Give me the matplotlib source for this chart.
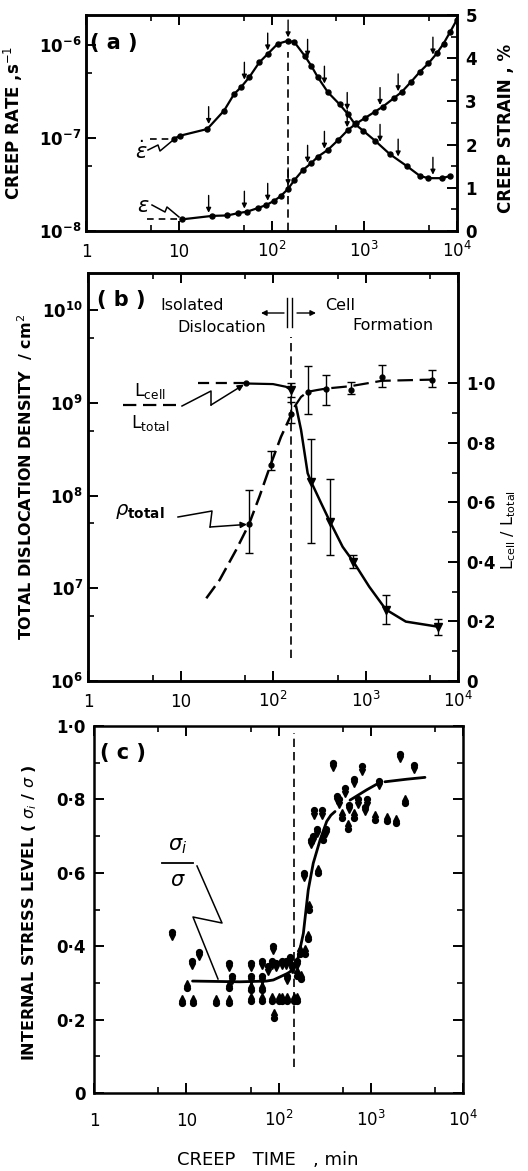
import numpy as np
import matplotlib
matplotlib.use("Agg")
import matplotlib.pyplot as plt
from matplotlib.lines import Line2D
from matplotlib.patches import FancyArrowPatch
from matplotlib.ticker import FixedLocator, NullFormatter
from matplotlib.transforms import offset_copy

W, H, DPI = 528, 1171, 100

# ---------------- (a) creep rate / creep strain ----------------
rate_t = [8.8, 10.4, 20.3, 30.8, 39.5, 46.7, 57.4, 73.8, 90.8, 116.6, 150, 177,
          227, 268, 316, 406, 543, 668, 789, 972, 1300, 1890, 2870, 4000, 4920,
          6870, 8450]
rate_v = [0.98e-7, 1.06e-7, 1.25e-7, 1.97e-7, 2.97e-7, 3.5e-7, 4.49e-7, 6.5e-7,
          8.0e-7, 1.03e-6, 1.11e-6, 1.07e-6, 7.7e-7, 6.0e-7, 4.5e-7, 3.1e-7,
          2.3e-7, 1.8e-7, 1.42e-7, 1.2e-7, 9.4e-8, 6.7e-8, 5.0e-8, 3.9e-8,
          3.7e-8, 3.7e-8, 3.9e-8]
rate_lead_t = [4.9, 8.8]

strain_t = [10.9, 23, 33.4, 43, 55, 71, 87.5, 107, 126, 150, 177, 218, 268, 316,
            406, 520, 668, 823, 1010, 1300, 1590, 2070, 2540, 3220, 4000, 4920,
            6050, 7170, 8450, 9900]
strain_v = [0.27, 0.35, 0.36, 0.41, 0.45, 0.53, 0.60, 0.70, 0.81, 0.97, 1.18,
            1.41, 1.57, 1.72, 1.88, 2.10, 2.34, 2.49, 2.61, 2.76, 2.88, 3.07,
            3.22, 3.46, 3.69, 3.88, 4.11, 4.34, 4.61, 4.88]
strain_lead_t = [4.5, 10.9]

tem_t = [21, 51, 91, 151, 245, 372, 655, 1480, 2320, 5500]
t_peak_a = 151

# ---------------- (b) dislocation density ----------------
rho_t = [55, 94, 158, 259, 414, 738, 1660, 6090]
rho_v = [4.9e7, 2.14e8, 7.5e8, 1.4e8, 5.2e7, 1.94e7, 5.9e6, 3.85e6]
rho_lo = [2.4e7, 1.9e8, 6.0e8, 3.1e7, 2.3e7, 1.64e7, 4.1e6, 3.1e6]
rho_hi = [1.15e8, 3.0e8, 1.03e9, 4.1e8, 1.5e8, 2.3e7, 8.5e6, 4.7e6]
rho_rise_t = [19, 26.5, 40, 55, 71.5, 94, 122, 158, 178]
rho_rise_v = [7.8e6, 1.23e7, 2.6e7, 4.9e7, 9.8e7, 2.14e8, 4.3e8, 7.5e8, 9.1e8]
rho_fall_t = [178, 201, 237, 259, 331, 414, 566, 738, 1097, 1660, 2730, 6090]
rho_fall_v = [9.1e8, 5.1e8, 1.74e8, 1.4e8, 8.3e7, 5.2e7, 2.8e7, 1.94e7, 1.04e7,
              5.9e6, 4.37e6, 3.85e6]

L_t = [50.6, 158, 237, 375, 690, 1500, 5290]
L_v = [0.999, 0.976, 0.971, 0.982, 0.977, 1.021, 1.012]
L_lo = [0.999, 0.954, 0.898, 0.926, 0.963, 0.988, 0.988]
L_hi = [0.999, 0.999, 1.057, 1.027, 1.004, 1.060, 1.044]
L_lead_t = [15.5, 50.6]
L_left_t = [50.6, 100, 138, 158]
L_left_v = [0.999, 0.997, 0.988, 0.976]
L_right_t = [170, 201, 237, 300, 375, 690, 1500, 5290]
L_right_v = [0.92, 0.954, 0.971, 0.977, 0.982, 0.990, 1.008, 1.012]
t_peak_b = 155

# ---------------- (c) internal stress level ----------------
sig_t = [7.0, 8.9, 10.1, 11.6, 11.9, 13.6, 21, 29.3, 29.3, 29.3, 31.5, 50, 50,
         50, 50, 66, 66, 66, 66, 76, 86, 88, 86, 90, 95, 100, 108, 110, 120, 125,
         125, 133, 140, 148, 160, 160, 160, 171, 176, 189, 194, 211, 216, 270,
         223, 238, 260, 306, 327, 242, 294, 387, 428, 456, 484, 526, 571, 585,
         664, 664, 733, 797, 866, 904, 1112, 1238, 1489, 1879, 2075, 2350, 2944]
sig_v = [0.44, 0.245, 0.285, 0.36, 0.245, 0.385, 0.245, 0.355, 0.285, 0.245,
         0.32, 0.355, 0.32, 0.28, 0.25, 0.36, 0.32, 0.28, 0.25, 0.345, 0.36, 0.40,
         0.25, 0.205, 0.355, 0.25, 0.36, 0.25, 0.36, 0.32, 0.25, 0.37, 0.35, 0.25,
         0.36, 0.32, 0.25, 0.38, 0.31, 0.60, 0.38, 0.42, 0.50, 0.60, 0.69, 0.70,
         0.72, 0.69, 0.72, 0.77, 0.77, 0.90, 0.81, 0.80, 0.75, 0.83, 0.72, 0.785,
         0.855, 0.75, 0.80, 0.89, 0.78, 0.80, 0.745, 0.85, 0.74, 0.735, 0.925,
         0.79, 0.895]
sig_dir = ['d', 'u', 'u', 'd', 'u', 'd', 'u', 'd', 'u', 'u', 'd', 'd', 'd', 'u',
           'u', 'd', 'd', 'u', 'u', 'd', 'd', 'd', 'u', 'u', 'd', 'u', 'd', 'u',
           'd', 'd', 'u', 'd', 'd', 'u', 'd', 'u', 'u', 'u', 'u', 'd', 'u', 'u',
           'u', 'u', 'd', 'd', 'd', 'u', 'd', 'd', 'd', 'd', 'd', 'd', 'u', 'd',
           'u', 'd', 'd', 'u', 'd', 'd', 'd', 'd', 'u', 'd', 'u', 'u', 'd', 'u',
           'd']
fit1_t = [11.7, 38, 74, 88, 123, 133, 151, 164, 186, 210, 238, 282, 333, 370, 410]
fit1_v = [0.305, 0.303, 0.305, 0.308, 0.325, 0.33, 0.345, 0.371, 0.435, 0.553,
          0.626, 0.689, 0.74, 0.757, 0.767]
fit2_t = [596, 903, 1210]
fit2_v = [0.798, 0.826, 0.844]
fit3_t = [1425, 2450, 3870]
fit3_v = [0.848, 0.855, 0.860]
t_peak_c = 147

x_ticks = [1, 10, 100, 1000, 10000]
x_labels = ['1', '10', r'$10^2$', r'$10^3$', r'$10^4$']
x_minor = [5, 50, 500, 5000]

# ---------------------------------------------------------------
plt.rcParams['font.family'] = ['DejaVu Sans']
plt.rcParams['mathtext.fontset'] = 'dejavusans'

fig = plt.figure(figsize=(W / DPI, H / DPI), dpi=DPI)


def box(l, t, r, b):
    return [l / W, 1 - b / H, (r - l) / W, (b - t) / H]


def fx(p):
    return (p[0] / W, 1 - p[1] / H)


def fig_line(pts, **kw):
    kw.setdefault('lw', 1.1)
    fig.add_artist(Line2D([p[0] / W for p in pts], [1 - p[1] / H for p in pts],
                          transform=fig.transFigure, color='k', **kw))


def fig_arrow(p0, p1):
    fig.add_artist(FancyArrowPatch(fx(p0), fx(p1), transform=fig.transFigure,
                                   arrowstyle='-|>', mutation_scale=8, lw=1.0,
                                   color='k', shrinkA=0, shrinkB=0))


def ftext(x, y, s, **kw):
    kw.setdefault('ha', 'center')
    kw.setdefault('va', 'center')
    fig.text(x / W, 1 - y / H, s, **kw)


def point_to(ax, xy, start):
    ax.annotate('', xy=xy, xycoords='data', xytext=fx(start),
                textcoords='figure fraction',
                arrowprops=dict(arrowstyle='-|>', lw=1.1, color='k', shrinkA=0,
                                shrinkB=1.5, mutation_scale=9))


def pow_label(e):
    return r'$\mathbf{10^{%d}}$' % e


def style_common(ax, xpad):
    ax.set_xscale('log')
    ax.set_xlim(1, 1e4)
    ax.set_xticks(x_ticks, x_labels)
    ax.xaxis.set_minor_locator(FixedLocator(x_minor))
    ax.xaxis.set_minor_formatter(NullFormatter())
    ax.tick_params(axis='x', which='both', direction='in', top=True, bottom=True,
                   labelsize=12, pad=xpad)
    ax.tick_params(which='major', length=7, width=1.4)
    ax.tick_params(which='minor', length=4, width=1.2)
    plt.setp(ax.get_xticklabels(), va='baseline')
    for s in ax.spines.values():
        s.set_linewidth(1.8)


def style_y(ax, side):
    ax.tick_params(axis='y', which='both', direction='in', labelsize=12,
                   left=(side == 'left'), right=(side == 'right'))
    ax.tick_params(which='major', length=7, width=1.4)
    ax.tick_params(which='minor', length=4, width=1.2)
    for lab in ax.get_yticklabels():
        lab.set_fontweight('bold')
    for s in ax.spines.values():
        s.set_linewidth(1.8)


# ============================ (a) ============================
ax_a = fig.add_axes(box(86, 15, 457, 231))
style_common(ax_a, 19)
ax_a.set_yscale('log')
ax_a.set_ylim(1e-8, 10 ** -5.677)
ax_a.set_yticks([1e-8, 1e-7, 1e-6], [pow_label(e) for e in (-8, -7, -6)])
ax_a.yaxis.set_minor_locator(FixedLocator([5e-8, 5e-7]))
ax_a.yaxis.set_minor_formatter(NullFormatter())
style_y(ax_a, 'left')

ax_a2 = ax_a.twinx()
ax_a2.set_ylim(0, 5)
ax_a2.set_yticks([0, 1, 2, 3, 4, 5])
ax_a2.yaxis.set_minor_locator(FixedLocator([0.5, 1.5, 2.5, 3.5, 4.5]))
style_y(ax_a2, 'right')
ax_a2.tick_params(axis='y', pad=6)

ax_a.plot(rate_t, rate_v, '-', color='k', lw=1.6, marker='o', ms=3.6)
ax_a.plot(rate_lead_t, [rate_v[0]] * 2, color='k', lw=1.2, ls=(0, (4, 3)))
ax_a2.plot(strain_t, strain_v, '-', color='k', lw=1.6, marker='o', ms=3.6)
ax_a2.plot(strain_lead_t, [strain_v[0]] * 2, color='k', lw=1.2, ls=(0, (4, 3)))
ax_a.axvline(t_peak_a, ymin=0, ymax=0.83, color='k', lw=1.2, ls=(0, (5, 3)))

arrow_kw = dict(arrowstyle='-|>', lw=1.0, color='k', shrinkA=0, shrinkB=2.5,
                mutation_scale=7)
lt = np.log10(tem_t)
r_at = 10 ** np.interp(lt, np.log10(rate_t), np.log10(rate_v))
s_at = np.interp(lt, np.log10(strain_t), strain_v)
for t, r, s in zip(tem_t, r_at, s_at):
    ax_a.annotate('', xy=(t, r), xytext=(0, 15), textcoords='offset points',
                  arrowprops=arrow_kw)
    ax_a2.annotate('', xy=(t, s), xytext=(0, 15), textcoords='offset points',
                   arrowprops=arrow_kw)

ax_a.text(0.012, 0.87, '( a )', transform=ax_a.transAxes, fontsize=15,
          fontweight='bold', ha='left', va='center')
ftext(141, 152, r'$\dot{\varepsilon}$', fontsize=15)
ftext(143, 206, r'$\varepsilon$', fontsize=15)
fig_line([(148, 150), (158, 145), (160, 151), (172, 141)])
fig_line([(152, 205), (165, 212), (167, 207), (179, 217)])

ftext(13, 123, r'CREEP RATE ,s$^{-1}$', rotation=90, fontsize=12,
      fontweight='bold')
ftext(506, 128, 'CREEP STRAIN , %', rotation=90, fontsize=12, fontweight='bold')

# ============================ (b) ============================
ax_b = fig.add_axes(box(88, 273, 458, 681))
style_common(ax_b, 19)
ax_b.set_yscale('log')
ax_b.set_ylim(1e6, 10 ** 10.4)
ax_b.set_yticks([1e6, 1e7, 1e8, 1e9, 1e10],
                [pow_label(e) for e in (6, 7, 8, 9, 10)])
ax_b.yaxis.set_minor_locator(FixedLocator([5e6, 5e7, 5e8, 5e9]))
ax_b.yaxis.set_minor_formatter(NullFormatter())
style_y(ax_b, 'left')

ax_b2 = ax_b.twinx()
ax_b2.set_ylim(0, 1.37)
ax_b2.set_yticks([0, 0.2, 0.4, 0.6, 0.8, 1.0],
                 ['0', '0·2', '0·4', '0·6', '0·8', '1·0'])
ax_b2.yaxis.set_minor_locator(FixedLocator([0.1, 0.3, 0.5, 0.7, 0.9]))
style_y(ax_b2, 'right')
ax_b2.tick_params(axis='y', pad=6)

rho_v_a = np.array(rho_v)
ax_b.errorbar(rho_t, rho_v,
              yerr=[rho_v_a - np.array(rho_lo), np.array(rho_hi) - rho_v_a],
              fmt='none', ecolor='k', elinewidth=1.0, capsize=3, capthick=1.0)
ax_b.plot(rho_t[:3], rho_v[:3], 'o', color='k', ms=3.5)
ax_b.plot(rho_t[3:], rho_v[3:], 'v', color='k', ms=5.5)
ax_b.plot(rho_rise_t, rho_rise_v, color='k', lw=1.8, ls=(0, (6, 2.5)))
ax_b.plot(rho_fall_t, rho_fall_v, color='k', lw=1.8)

L_v_a = np.array(L_v)
ax_b2.errorbar(L_t[1:], L_v[1:],
               yerr=[L_v_a[1:] - np.array(L_lo[1:]),
                     np.array(L_hi[1:]) - L_v_a[1:]],
               fmt='none', ecolor='k', elinewidth=1.0, capsize=3, capthick=1.0)
ax_b2.plot([L_t[0]] + L_t[2:], [L_v[0]] + L_v[2:], 'o', color='k', ms=3.5)
ax_b2.plot(L_t[1], L_v[1], 'v', color='k', ms=5.5)
ax_b2.plot(L_lead_t, [L_v[0]] * 2, color='k', lw=1.6, ls=(0, (5, 3)))
ax_b2.plot(L_left_t, L_left_v, color='k', lw=1.6)
ax_b2.plot(L_right_t, L_right_v, color='k', lw=1.6, ls=(0, (7, 3)))
ax_b.axvline(t_peak_b, ymin=0.056, ymax=0.843, color='k', lw=1.2,
             ls=(0, (5, 3)))

ax_b.text(0.024, 0.934, '( b )', transform=ax_b.transAxes, fontsize=15,
          fontweight='bold', ha='left', va='center')
ftext(192, 306, 'Isolated', fontsize=11.5)
ftext(222, 328, 'Dislocation', fontsize=11.5)
ftext(340, 306, 'Cell', fontsize=11.5)
ftext(393, 326, 'Formation', fontsize=11.5)
fig_arrow((284, 313), (261, 313))
fig_arrow((297, 313), (316, 313))
fig_line([(287, 298), (287, 327)], lw=1.0)
fig_line([(292, 298), (292, 327)], lw=1.0)

ftext(150, 391, r'L$_{\mathregular{cell}}$', fontsize=12.5)
fig_line([(123, 405), (176, 405)], lw=1.6, ls=(0, (6, 3)))
ftext(150, 423, r'L$_{\mathregular{total}}$', fontsize=12.5)
fig_line([(182, 406), (211, 391), (211, 405)])
point_to(ax_b2, (L_t[0], L_v[0]), (211, 405))

ftext(140, 512, r'$\rho_{\mathregular{total}}$', fontsize=14, fontweight='bold')
fig_line([(178, 517), (212, 511), (210, 527)])
point_to(ax_b, (rho_t[0], rho_v[0]), (210, 527))

ftext(25, 477, r'TOTAL DISLOCATION DENSITY  / cm$^2$', rotation=90,
      fontsize=11.5, fontweight='bold')
ftext(509, 530, r'L$_{\mathregular{cell}}$ / L$_{\mathregular{total}}$',
      rotation=90, fontsize=11.5)

# ============================ (c) ============================
ax_c = fig.add_axes(box(94, 726, 463, 1093))
style_common(ax_c, 24)
ax_c.set_ylim(0, 1.0)
ax_c.set_yticks([0, 0.2, 0.4, 0.6, 0.8, 1.0],
                ['0', '0·2', '0·4', '0·6', '0·8', '1·0'])
ax_c.yaxis.set_minor_locator(FixedLocator([0.1, 0.3, 0.5, 0.7, 0.9]))
style_y(ax_c, 'left')
ax_c.tick_params(axis='y', which='both', right=True)
ax_c.tick_params(axis='y', pad=6)

st = np.array(sig_t)
sv = np.array(sig_v)
dn = np.array(sig_dir) == 'd'
ax_c.plot(st, sv, 'o', color='k', ms=4.2, zorder=3)
tr_dn = offset_copy(ax_c.transData, fig=fig, x=0, y=-3.8, units='points')
tr_up = offset_copy(ax_c.transData, fig=fig, x=0, y=3.8, units='points')
ax_c.plot(st[dn], sv[dn], 'v', color='k', ms=4.2, transform=tr_dn, zorder=3)
ax_c.plot(st[~dn], sv[~dn], '^', color='k', ms=4.2, transform=tr_up, zorder=3)

for ft, fv in ((fit1_t, fit1_v), (fit2_t, fit2_v), (fit3_t, fit3_v)):
    ax_c.plot(ft, fv, color='k', lw=2.0, solid_capstyle='round')
ax_c.axvline(t_peak_c, ymin=0.07, ymax=0.98, color='k', lw=1.2,
             ls=(0, (5, 3)))

ax_c.text(0.016, 0.926, '( c )', transform=ax_c.transAxes, fontsize=15,
          fontweight='bold', ha='left', va='center')
ftext(178, 846, r'$\sigma_i$', fontsize=15)
fig_line([(162, 863), (193, 863)], lw=1.3)
ftext(178, 880, r'$\sigma$', fontsize=15)
fig_line([(197, 866), (222, 923), (193, 917), (218, 979)])

ftext(30, 913, r'INTERNAL STRESS LEVEL ( $\sigma_i$ / $\sigma$ )', rotation=90,
      fontsize=11.5, fontweight='bold')
ftext(268, 1160, 'CREEP   TIME   , min', fontsize=13)

fig.savefig('out.png', dpi=DPI, facecolor='white')
